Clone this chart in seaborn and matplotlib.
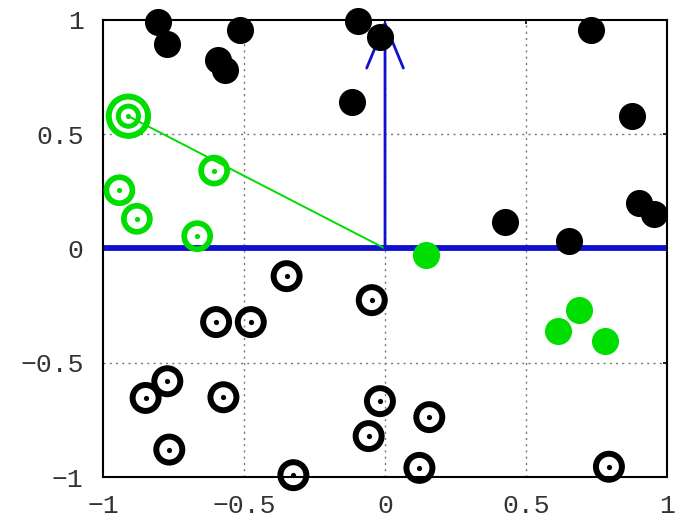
import matplotlib
matplotlib.use("Agg")
import matplotlib.pyplot as plt
import seaborn as sns

# ---- data ----
black_filled_x = [-0.805, -0.772, -0.514, -0.591, -0.567, -0.097, -0.018, -0.118,
                  0.730, 0.875, 0.902, 0.955, 0.426, 0.652]
black_filled_y = [0.993, 0.896, 0.955, 0.823, 0.780, 0.995, 0.926, 0.642,
                  0.958, 0.579, 0.200, 0.149, 0.115, 0.032]

green_filled_x = [0.144, 0.615, 0.689, 0.780]
green_filled_y = [-0.029, -0.359, -0.267, -0.403]

green_ring_x = [-0.606, -0.942, -0.880, -0.666]
green_ring_y = [0.341, 0.255, 0.130, 0.054]

black_ring_x = [-0.349, -0.047, -0.599, -0.476, -0.772, -0.849, -0.573, -0.018,
                -0.058, -0.765, -0.325, 0.157, 0.122, 0.794]
black_ring_y = [-0.121, -0.226, -0.322, -0.322, -0.581, -0.654, -0.651, -0.668,
                -0.821, -0.880, -0.992, -0.738, -0.960, -0.955]

big_ring_x = [-0.910]
big_ring_y = [0.579]

# vectors from origin
blue_vec = (0.0, 1.0)
green_vec = (-0.910, 0.579)

ticks = [-1, -0.5, 0, 0.5, 1]
tick_labels = ["\u22121", "\u22120.5", "0", "0.5", "1"]

GREEN = "#00dd00"
BLUE = "#1010d0"

sns.set_style("white")
plt.rcParams["font.family"] = ["Liberation Mono", "DejaVu Sans Mono"]

fig = plt.figure(figsize=(6.76, 5.22), dpi=100)
ax = fig.add_axes([0.1524, 0.0862, 0.8343, 0.8755])
ax.set_xlim(-1, 1)
ax.set_ylim(-1, 1)

# grid
for t in [-0.5, 0, 0.5]:
    ax.axvline(t, color="#777777", lw=1.0, ls=(0, (1.5, 3)), zorder=1)
    ax.axhline(t, color="#777777", lw=1.0, ls=(0, (1.5, 3)), zorder=1)

# blue horizontal axis line
ax.axhline(0, color=BLUE, lw=4.2, zorder=2)

# green vector line
sns.lineplot(x=[0, green_vec[0]], y=[0, green_vec[1]], color=GREEN, lw=1.4,
             ax=ax, zorder=3, sort=False)

# blue arrow
ax.annotate("", xy=blue_vec, xytext=(0, 0),
            arrowprops=dict(arrowstyle="->,head_length=1.6,head_width=0.66",
                            color=BLUE, lw=2.0, shrinkA=0, shrinkB=0,
                            mutation_scale=20),
            zorder=3, annotation_clip=False)

def rings(xs, ys, color, s_outer, lw, s_dot, z):
    sns.scatterplot(x=xs, y=ys, s=s_outer, marker="o", facecolors="none",
                    edgecolors=color, linewidths=lw, ax=ax, zorder=z, clip_on=False)
    sns.scatterplot(x=xs, y=ys, s=s_dot, marker="o", color=color,
                    edgecolor=color, linewidth=0, ax=ax, zorder=z, clip_on=False)

# filled points
sns.scatterplot(x=black_filled_x, y=black_filled_y, s=380, color="black",
                edgecolor="black", linewidth=0, ax=ax, zorder=5, clip_on=False)
sns.scatterplot(x=green_filled_x, y=green_filled_y, s=380, color=GREEN,
                edgecolor=GREEN, linewidth=0, ax=ax, zorder=5, clip_on=False)

rings(black_ring_x, black_ring_y, "black", 350, 4.3, 14, 5)
rings(green_ring_x, green_ring_y, GREEN, 350, 4.1, 14, 5)

# big double ring
sns.scatterplot(x=big_ring_x, y=big_ring_y, s=800, marker="o", facecolors="none",
                edgecolors=GREEN, linewidths=4.3, ax=ax, zorder=6, clip_on=False)
rings(big_ring_x, big_ring_y, GREEN, 210, 3.6, 14, 6)

ax.set_xticks(ticks)
ax.set_yticks(ticks)
ax.set_xticklabels(tick_labels)
ax.set_yticklabels(tick_labels)
ax.tick_params(axis="both", which="both", direction="in", length=3, width=1.2,
               top=True, right=True, labelsize=19, colors="black",
               labelcolor="#333333")
ax.tick_params(axis="x", pad=12)
ax.tick_params(axis="y", pad=14)
for sp in ax.spines.values():
    sp.set_visible(True)
    sp.set_color("black")
    sp.set_linewidth(1.5)
    sp.set_zorder(4)
ax.set_xlabel("")
ax.set_ylabel("")
if ax.get_legend():
    ax.get_legend().remove()

fig.savefig("out.png", dpi=100)
